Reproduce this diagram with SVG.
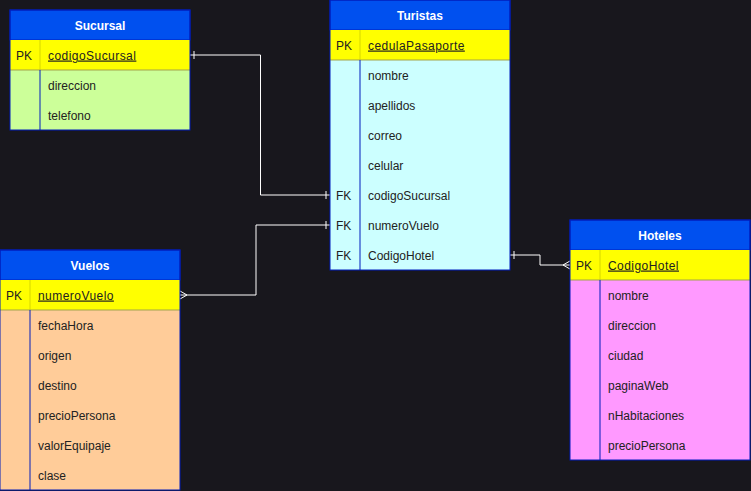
<svg xmlns="http://www.w3.org/2000/svg" width="751" height="491" viewBox="0 0 751 491">
<defs>
<style>
.hdr{fill:#0050EF;stroke:#001DBC;stroke-width:1}
.ht{font-family:"Liberation Sans",Arial,sans-serif;font-size:12px;font-weight:bold;fill:#ffffff;text-anchor:middle}
.pkline{stroke:#A3A34A;stroke-width:1}
.t{font-family:"Liberation Sans",Arial,sans-serif;font-size:12px;fill:#222222}
.u{text-decoration:underline;letter-spacing:0.45px}
.div{stroke:#001DBC;stroke-width:1}
.divpk{stroke:#D6D600;stroke-width:1}
.out{fill:none;stroke:#001DBC;stroke-width:1}
.c{fill:none;stroke:#ffffff;stroke-width:1}
</style>
<marker id="oneS" viewBox="0 0 10 10" refX="0" refY="5" markerWidth="10" markerHeight="10" markerUnits="userSpaceOnUse" orient="auto">
<path d="M4,1 L4,9" stroke="#ffffff" stroke-width="1" fill="none"/>
</marker>
<marker id="oneE" viewBox="-10 0 10 10" refX="0" refY="5" markerWidth="10" markerHeight="10" markerUnits="userSpaceOnUse" orient="auto">
<path d="M-4,1 L-4,9" stroke="#ffffff" stroke-width="1" fill="none"/>
</marker>
<marker id="manyE" viewBox="-10 0 10 10" refX="0" refY="5" markerWidth="10" markerHeight="10" markerUnits="userSpaceOnUse" orient="auto">
<path d="M0,1 L-7,5 L0,9" stroke="#ffffff" stroke-width="1" fill="none"/>
</marker>
</defs>
<rect x="0" y="0" width="751" height="491" fill="#18171D"/>

<g id="connectors">
<path class="c" d="M330,195 L260.5,195 L260.5,55 L190,55" marker-start="url(#oneS)" marker-end="url(#oneE)"/>
<path class="c" d="M330,225 L256,225 L256,295 L180,295" marker-start="url(#oneS)" marker-end="url(#manyE)"/>
<path class="c" d="M510,255 L540,255 L540,265 L570,265" marker-start="url(#oneS)" marker-end="url(#manyE)"/>
</g>

<g id="Sucursal">
<rect x="10" y="70" width="180" height="60" fill="#CCFF99"/>
<rect class="hdr" x="10" y="10" width="180" height="30"/>
<text class="ht" x="100" y="29.5">Sucursal</text>
<rect x="10" y="40" width="180" height="30" fill="#FFFF00"/>
<line class="divpk" x1="40" y1="40" x2="40" y2="70"/>
<line class="pkline" x1="10" y1="70" x2="190" y2="70"/>
<text class="t" x="16" y="59.5">PK</text>
<text class="t u" x="48" y="59.5">codigoSucursal</text>
<line class="div" x1="40" y1="70" x2="40" y2="130"/>
<text class="t" x="48" y="89.5">direccion</text>
<text class="t" x="48" y="119.5">telefono</text>
<rect class="out" x="10" y="10" width="180" height="120"/>
</g>

<g id="Turistas">
<rect x="330" y="60" width="180" height="210" fill="#CCFFFF"/>
<rect class="hdr" x="330" y="0" width="180" height="30"/>
<text class="ht" x="420" y="19.5">Turistas</text>
<rect x="330" y="30" width="180" height="30" fill="#FFFF00"/>
<line class="divpk" x1="360" y1="30" x2="360" y2="60"/>
<line class="pkline" x1="330" y1="60" x2="510" y2="60"/>
<text class="t" x="336" y="49.5">PK</text>
<text class="t u" x="368" y="49.5">cedulaPasaporte</text>
<line class="div" x1="360" y1="60" x2="360" y2="270"/>
<text class="t" x="368" y="79.5">nombre</text>
<text class="t" x="368" y="109.5">apellidos</text>
<text class="t" x="368" y="139.5">correo</text>
<text class="t" x="368" y="169.5">celular</text>
<text class="t" x="336" y="199.5">FK</text>
<text class="t" x="368" y="199.5">codigoSucursal</text>
<text class="t" x="336" y="229.5">FK</text>
<text class="t" x="368" y="229.5">numeroVuelo</text>
<text class="t" x="336" y="259.5">FK</text>
<text class="t" x="368" y="259.5">CodigoHotel</text>
<rect class="out" x="330" y="0" width="180" height="270"/>
</g>

<g id="Hoteles">
<rect x="570" y="280" width="180" height="180" fill="#FF99FF"/>
<rect class="hdr" x="570" y="220" width="180" height="30"/>
<text class="ht" x="660" y="239.5">Hoteles</text>
<rect x="570" y="250" width="180" height="30" fill="#FFFF00"/>
<line class="divpk" x1="600" y1="250" x2="600" y2="280"/>
<line class="pkline" x1="570" y1="280" x2="750" y2="280"/>
<text class="t" x="576" y="269.5">PK</text>
<text class="t u" x="608" y="269.5">CodigoHotel</text>
<line class="div" x1="600" y1="280" x2="600" y2="460"/>
<text class="t" x="608" y="299.5">nombre</text>
<text class="t" x="608" y="329.5">direccion</text>
<text class="t" x="608" y="359.5">ciudad</text>
<text class="t" x="608" y="389.5">paginaWeb</text>
<text class="t" x="608" y="419.5">nHabitaciones</text>
<text class="t" x="608" y="449.5">precioPersona</text>
<rect class="out" x="570" y="220" width="180" height="240"/>
</g>

<g id="Vuelos">
<rect x="0" y="310" width="180" height="180" fill="#FFCC99"/>
<rect class="hdr" x="0" y="250" width="180" height="30"/>
<text class="ht" x="90" y="269.5">Vuelos</text>
<rect x="0" y="280" width="180" height="30" fill="#FFFF00"/>
<line class="divpk" x1="30" y1="280" x2="30" y2="310"/>
<line class="pkline" x1="0" y1="310" x2="180" y2="310"/>
<text class="t" x="6" y="299.5">PK</text>
<text class="t u" x="38" y="299.5">numeroVuelo</text>
<line class="div" x1="30" y1="310" x2="30" y2="490"/>
<text class="t" x="38" y="329.5">fechaHora</text>
<text class="t" x="38" y="359.5">origen</text>
<text class="t" x="38" y="389.5">destino</text>
<text class="t" x="38" y="419.5">precioPersona</text>
<text class="t" x="38" y="449.5">valorEquipaje</text>
<text class="t" x="38" y="479.5">clase</text>
<rect class="out" x="0" y="250" width="180" height="240"/>
</g>
</svg>
